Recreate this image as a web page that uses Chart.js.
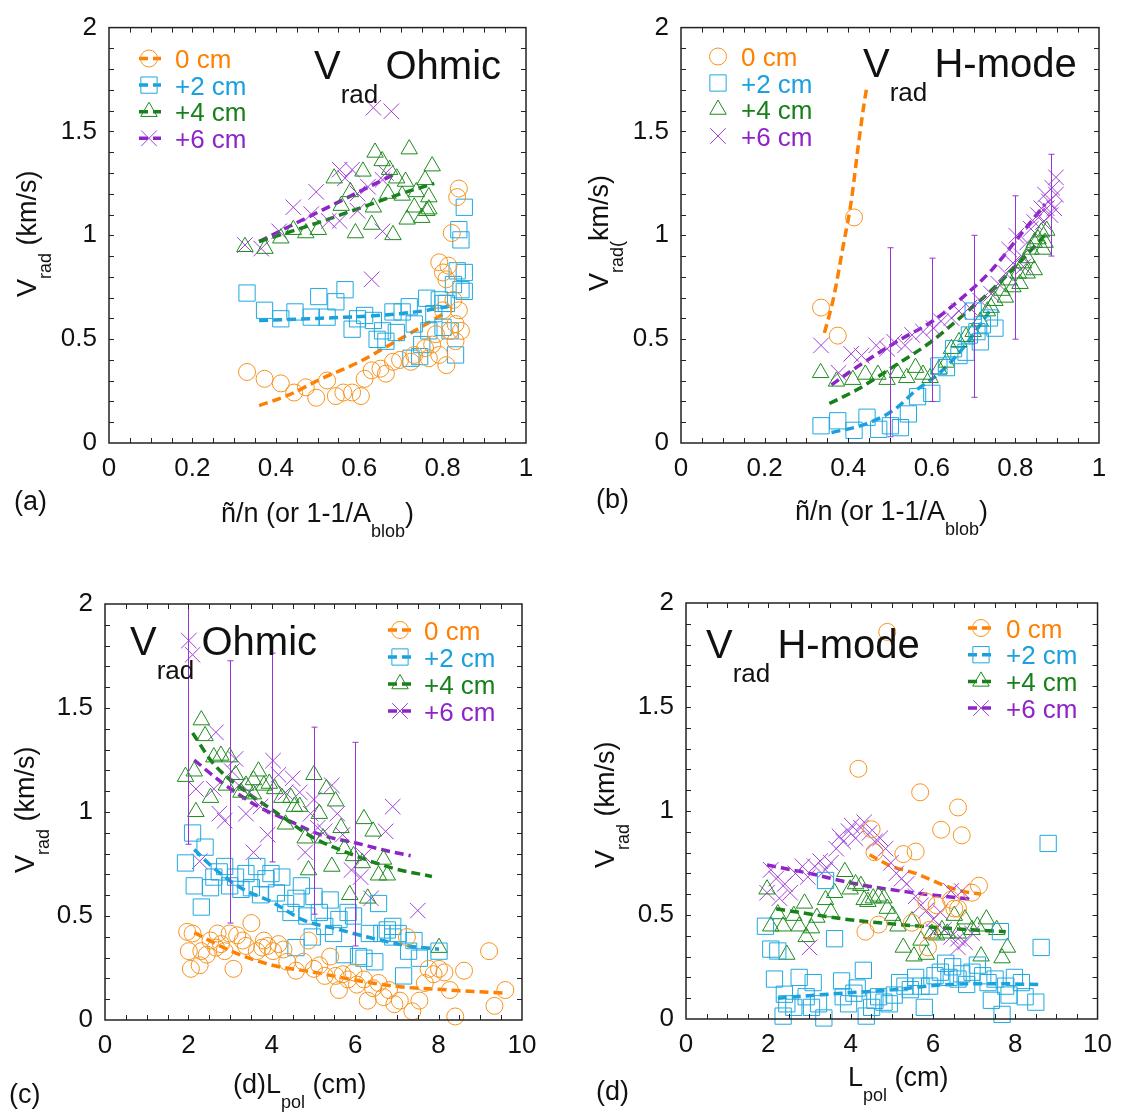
<!DOCTYPE html>
<html>
<head>
<meta charset="utf-8">
<title>Vrad vs fluctuation level and Lpol</title>
<script src="https://cdn.jsdelivr.net/npm/chart.js@4.4.1/dist/chart.umd.min.js"></script>
<style>
  html, body { margin: 0; padding: 0; background: #fff; }
  body { width: 1122px; height: 1113px; position: relative; overflow: hidden; }
  canvas.panel { position: absolute; }
</style>
</head>
<body>
<canvas id="panel-a" class="panel"></canvas>
<canvas id="panel-b" class="panel"></canvas>
<canvas id="panel-c" class="panel"></canvas>
<canvas id="panel-d" class="panel"></canvas>
<script>
// ==========================
// DATA
// ==========================
const seriesLabels = ["0 cm", "+2 cm", "+4 cm", "+6 cm"];
const ratioTicks = [0, 0.2, 0.4, 0.6, 0.8, 1];
const lpolTicks = [0, 2, 4, 6, 8, 10];
const vradTicks = [0, 0.5, 1, 1.5, 2];

// (a) Ohmic, V_rad vs n~/n
const ohmicRatio0 = [[0.331,0.342],[0.373,0.309],[0.412,0.287],[0.444,0.243],[0.472,0.268],[0.497,0.218],[0.523,0.301],[0.544,0.226],[0.562,0.243],[0.583,0.243],[0.604,0.226],[0.613,0.309],[0.630,0.350],[0.651,0.358],[0.664,0.334],[0.681,0.391],[0.698,0.400],[0.724,0.391],[0.732,0.424],[0.758,0.457],[0.767,0.408],[0.775,0.474],[0.784,0.524],[0.792,0.424],[0.792,0.870],[0.801,0.821],[0.801,0.639],[0.809,0.788],[0.809,0.375],[0.814,0.854],[0.818,0.540],[0.822,1.011],[0.826,0.689],[0.831,0.573],[0.831,0.490],[0.835,1.184],[0.839,1.225],[0.839,0.639],[0.844,0.540]];
const ohmicRatio2 = [[0.331,0.722],[0.373,0.639],[0.412,0.598],[0.446,0.631],[0.485,0.606],[0.503,0.705],[0.523,0.606],[0.544,0.680],[0.566,0.738],[0.583,0.548],[0.596,0.598],[0.613,0.614],[0.634,0.590],[0.643,0.499],[0.656,0.540],[0.664,0.490],[0.681,0.631],[0.689,0.532],[0.703,0.631],[0.720,0.656],[0.724,0.408],[0.732,0.573],[0.745,0.416],[0.750,0.474],[0.762,0.697],[0.767,0.540],[0.779,0.623],[0.792,0.689],[0.801,0.557],[0.801,0.672],[0.809,0.672],[0.818,0.540],[0.826,0.763],[0.831,0.424],[0.835,0.829],[0.839,1.027],[0.844,0.978],[0.844,0.738],[0.852,1.135],[0.852,0.821],[0.852,0.730]];
const ohmicRatio4 = [[0.326,0.945],[0.374,0.936],[0.412,0.986],[0.442,1.027],[0.472,1.011],[0.502,1.027],[0.540,1.275],[0.557,1.143],[0.579,1.209],[0.591,1.011],[0.609,1.308],[0.630,1.052],[0.634,1.135],[0.638,1.399],[0.655,1.358],[0.669,1.201],[0.673,1.316],[0.681,1.002],[0.690,1.275],[0.703,1.192],[0.711,1.259],[0.715,1.077],[0.720,1.415],[0.732,1.135],[0.737,1.209],[0.750,1.085],[0.758,1.267],[0.762,1.118],[0.767,1.184],[0.767,1.126],[0.775,1.333]];
const ohmicRatio6 = [[0.326,0.953],[0.365,0.936],[0.408,1.019],[0.442,1.135],[0.485,1.102],[0.497,1.209],[0.527,1.069],[0.553,1.316],[0.553,1.069],[0.566,1.275],[0.583,1.316],[0.596,1.201],[0.596,1.118],[0.621,1.234],[0.630,0.788],[0.634,1.614],[0.656,1.019],[0.656,1.267],[0.664,1.300],[0.677,1.597]];
const ohmicRatioFit0 = [[0.36,0.18],[0.43,0.23],[0.51,0.31],[0.60,0.39],[0.68,0.48],[0.75,0.56],[0.80,0.62]];
const ohmicRatioFit2 = [[0.36,0.59],[0.50,0.60],[0.65,0.615],[0.75,0.635],[0.82,0.66]];
const ohmicRatioFit4 = [[0.36,0.97],[0.50,1.06],[0.60,1.13],[0.70,1.20],[0.78,1.25]];
const ohmicRatioFit6 = [[0.36,0.97],[0.45,1.06],[0.55,1.16],[0.63,1.24],[0.68,1.29]];

// (b) H-mode, V_rad vs n~/n
const hmodeRatio0 = [[0.335,0.652],[0.375,0.517],[0.414,1.086]];
const hmodeRatio2 = [[0.335,0.083],[0.375,0.107],[0.414,0.061],[0.445,0.124],[0.473,0.066],[0.501,0.083],[0.525,0.074],[0.544,0.140],[0.566,0.223],[0.600,0.239],[0.617,0.371],[0.635,0.363],[0.652,0.454],[0.665,0.421],[0.682,0.437],[0.690,0.520],[0.699,0.635],[0.708,0.536],[0.716,0.487],[0.721,0.569],[0.738,0.602],[0.751,0.553]];
const hmodeRatio4 = [[0.334,0.338],[0.372,0.297],[0.411,0.305],[0.441,0.330],[0.471,0.330],[0.493,0.305],[0.518,0.338],[0.540,0.314],[0.561,0.363],[0.579,0.330],[0.596,0.314],[0.617,0.355],[0.635,0.388],[0.647,0.454],[0.665,0.487],[0.682,0.512],[0.699,0.536],[0.716,0.586],[0.733,0.635],[0.742,0.652],[0.751,0.685],[0.768,0.734],[0.776,0.701],[0.785,0.784],[0.794,0.751],[0.807,0.817],[0.811,0.767],[0.819,0.866],[0.828,0.891],[0.828,0.817],[0.837,0.932],[0.845,0.965],[0.845,0.833],[0.854,0.982],[0.862,1.015],[0.866,0.932],[0.871,0.965],[0.875,1.023]];
const hmodeRatio6 = [[0.335,0.470],[0.377,0.338],[0.407,0.429],[0.432,0.421],[0.467,0.470],[0.493,0.454],[0.510,0.487],[0.536,0.470],[0.553,0.520],[0.579,0.536],[0.604,0.553],[0.622,0.586],[0.647,0.602],[0.665,0.635],[0.690,0.652],[0.716,0.685],[0.742,0.718],[0.759,0.767],[0.777,0.817],[0.785,0.932],[0.794,0.866],[0.802,0.998],[0.815,0.899],[0.819,0.850],[0.828,0.965],[0.837,1.031],[0.845,1.064],[0.854,1.097],[0.862,1.130],[0.866,1.064],[0.871,1.196],[0.875,1.130],[0.880,1.163],[0.884,1.097],[0.888,1.229],[0.893,1.130],[0.897,1.279],[0.897,1.196]];
const hmodeRatioFit0 = [[0.343,0.53],[0.364,0.69],[0.389,0.96],[0.407,1.16],[0.424,1.43],[0.437,1.62],[0.445,1.72]];
const hmodeRatioFit2 = [[0.36,0.05],[0.44,0.09],[0.51,0.16],[0.56,0.25],[0.62,0.34],[0.68,0.47],[0.74,0.64]];
const hmodeRatioFit4 = [[0.355,0.19],[0.424,0.26],[0.51,0.37],[0.60,0.49],[0.66,0.59],[0.74,0.73],[0.81,0.87],[0.87,1.0]];
const hmodeRatioFit6 = [[0.36,0.28],[0.424,0.37],[0.518,0.49],[0.604,0.59],[0.673,0.70],[0.742,0.83],[0.811,1.0],[0.871,1.15]];
// [x, low, high] of the +6 cm error bars
const hmodeRatioErr6 = [[0.5,0.03,0.94],[0.6,0.20,0.89],[0.7,0.22,1.0],[0.8,0.50,1.19],[0.885,0.90,1.39]];

// (c) Ohmic, V_rad vs L_pol
const ohmicLpol0 = [[1.97,0.424],[2.01,0.331],[2.06,0.246],[2.10,0.416],[2.27,0.263],[2.31,0.331],[2.44,0.314],[2.53,0.382],[2.66,0.348],[2.70,0.416],[2.78,0.365],[2.87,0.331],[2.99,0.416],[3.08,0.246],[3.17,0.407],[3.30,0.382],[3.38,0.356],[3.51,0.466],[3.64,0.331],[3.77,0.348],[3.81,0.382],[3.90,0.356],[4.03,0.331],[4.16,0.365],[4.28,0.339],[4.37,0.280],[4.58,0.237],[4.76,0.280],[4.88,0.382],[5.01,0.246],[5.14,0.263],[5.27,0.212],[5.40,0.305],[5.53,0.212],[5.61,0.144],[5.70,0.220],[5.83,0.195],[5.96,0.229],[6.04,0.170],[6.21,0.195],[6.30,0.093],[6.43,0.153],[6.56,0.178],[6.68,0.110],[6.81,0.144],[6.94,0.076],[7.07,0.093],[7.24,0.399],[7.37,0.042],[7.54,0.093],[7.67,0.178],[7.76,0.246],[7.88,0.220],[8.01,0.246],[8.14,0.229],[8.27,0.144],[8.40,0.017],[8.61,0.237],[9.21,0.331],[9.34,0.068],[9.60,0.144]];
const ohmicLpol2 = [[1.93,0.755],[2.10,0.899],[2.14,0.645],[2.31,0.543],[2.40,0.831],[2.53,0.636],[2.61,0.687],[2.74,0.712],[2.87,0.738],[2.99,0.645],[3.13,0.687],[3.26,0.628],[3.38,0.704],[3.51,0.636],[3.64,0.738],[3.73,0.602],[3.86,0.679],[3.98,0.704],[4.11,0.611],[4.24,0.687],[4.33,0.560],[4.46,0.517],[4.58,0.585],[4.58,0.348],[4.71,0.645],[4.84,0.500],[4.97,0.399],[5.01,0.594],[5.14,0.517],[5.27,0.450],[5.40,0.577],[5.48,0.416],[5.61,0.483],[5.74,0.314],[5.83,0.517],[5.96,0.500],[6.08,0.305],[6.21,0.297],[6.34,0.416],[6.47,0.280],[6.56,0.560],[6.64,0.416],[6.77,0.433],[6.90,0.399],[6.90,0.450],[7.03,0.416],[7.16,0.212],[7.28,0.331],[7.41,0.382],[7.54,0.297],[8.01,0.331]];
const ohmicLpol4 = [[1.93,1.170],[2.14,1.196],[2.18,1.001],[2.31,1.442],[2.40,1.366],[2.53,1.069],[2.61,1.264],[2.78,1.272],[2.91,1.128],[2.99,1.264],[3.13,1.179],[3.26,1.094],[3.38,1.128],[3.56,1.154],[3.56,1.086],[3.68,1.196],[3.81,1.128],[3.94,1.137],[4.07,1.111],[4.24,1.069],[4.33,0.941],[4.46,1.069],[4.54,1.026],[4.67,1.026],[4.80,0.874],[4.88,0.721],[5.01,1.179],[5.14,0.992],[5.23,0.874],[5.31,1.111],[5.44,0.738],[5.53,1.052],[5.66,0.924],[5.74,0.823],[5.87,0.602],[5.96,0.789],[6.17,0.755],[6.21,0.967],[6.30,0.585],[6.43,0.907],[6.56,0.696],[6.68,0.772],[6.77,0.696],[8.01,0.348]];
const ohmicLpol6 = [[2.01,1.824],[2.10,1.756],[2.18,1.111],[2.27,0.763],[2.61,1.111],[2.66,1.383],[2.74,0.992],[2.87,0.958],[3.04,1.196],[3.13,1.255],[3.21,1.128],[3.38,0.992],[3.47,1.094],[3.56,0.806],[3.73,1.026],[3.90,0.891],[4.03,1.247],[4.16,1.179],[4.33,1.094],[4.50,1.162],[4.67,1.094],[4.80,0.806],[4.93,0.992],[5.01,1.060],[5.10,0.924],[5.27,0.907],[5.44,1.128],[5.57,0.992],[5.70,0.891],[5.91,0.721],[6.13,0.687],[6.21,0.789],[6.38,0.585],[6.73,0.907],[6.90,1.026],[7.50,0.526]];
const ohmicLpolFit0 = [[2.14,0.42],[3.04,0.33],[3.98,0.265],[5.01,0.23],[6.04,0.19],[7.07,0.16],[8.18,0.145],[9.55,0.13]];
const ohmicLpolFit2 = [[2.14,0.82],[2.61,0.73],[3.30,0.63],[3.98,0.57],[4.76,0.48],[5.61,0.435],[6.47,0.39],[7.33,0.355],[8.01,0.34]];
const ohmicLpolFit4 = [[2.10,1.38],[2.61,1.23],[3.30,1.11],[4.16,0.99],[5.01,0.875],[5.87,0.80],[6.90,0.73],[7.84,0.69]];
const ohmicLpolFit6 = [[2.14,1.25],[2.78,1.145],[3.64,1.03],[4.50,0.95],[5.18,0.89],[6.04,0.85],[6.73,0.815],[7.33,0.79]];
const ohmicLpolErr6 = [[2,0.845,2.1],[3,0.466,1.727],[4,0.76,1.764],[5,0.509,1.408],[6,0.356,1.335]];

// (d) H-mode, V_rad vs L_pol
const hmodeLpol0 = [[4.19,1.203],[4.36,0.420],[4.51,0.912],[4.58,0.802],[4.68,0.454],[4.89,1.861],[5.28,0.793],[5.49,0.463],[5.58,0.805],[5.69,1.090],[5.84,0.564],[5.88,0.344],[5.92,0.429],[6.09,0.547],[6.20,0.910],[6.44,0.573],[6.52,0.531],[6.61,1.017],[6.61,0.531],[6.70,0.883],[6.95,0.607],[7.12,0.641]];
const hmodeLpol2 = [[1.93,0.446],[2.06,0.336],[2.15,0.192],[2.23,0.327],[2.36,0.014],[2.39,0.119],[2.45,0.073],[2.62,0.056],[2.75,0.200],[2.92,0.107],[3.05,0.056],[3.09,0.175],[3.22,0.073],[3.35,0.005],[3.39,0.666],[3.61,0.386],[3.78,0.183],[3.82,0.107],[3.95,0.073],[4.08,0.124],[4.16,0.149],[4.31,0.234],[4.38,0.014],[4.51,0.056],[4.59,0.090],[4.68,0.107],[4.81,0.081],[4.94,0.073],[5.06,0.115],[5.19,0.175],[5.32,0.158],[5.45,0.141],[5.58,0.200],[5.71,0.158],[5.79,0.056],[5.92,0.158],[6.05,0.208],[6.18,0.225],[6.31,0.268],[6.39,0.200],[6.48,0.251],[6.61,0.192],[6.70,0.217],[6.82,0.166],[6.95,0.225],[7.08,0.259],[7.21,0.208],[7.34,0.175],[7.42,0.090],[7.51,0.192],[7.64,0.420],[7.68,0.022],[7.77,0.158],[7.85,0.115],[7.98,0.200],[8.15,0.175],[8.24,0.107],[8.50,0.081],[8.63,0.344],[8.80,0.844]];
const hmodeLpol4 = [[1.97,0.624],[2.06,0.446],[2.23,0.505],[2.36,0.446],[2.45,0.310],[2.62,0.497],[2.75,0.446],[2.88,0.556],[2.92,0.395],[3.05,0.437],[3.18,0.488],[3.39,0.573],[3.52,0.514],[3.61,0.607],[3.86,0.708],[3.99,0.624],[4.12,0.649],[4.25,0.641],[4.33,0.573],[4.42,0.564],[4.55,0.581],[4.68,0.590],[4.81,0.581],[4.89,0.531],[5.02,0.497],[5.15,0.446],[5.28,0.344],[5.49,0.471],[5.54,0.302],[5.71,0.378],[5.84,0.310],[5.97,0.412],[6.09,0.403],[6.22,0.429],[6.35,0.412],[6.52,0.497],[6.61,0.412],[6.78,0.480],[6.95,0.429],[7.08,0.446],[7.17,0.302],[7.30,0.480],[7.55,0.429],[7.68,0.293],[7.81,0.344]];
const hmodeLpol6 = [[1.97,0.607],[2.06,0.717],[2.19,0.675],[2.27,0.581],[2.40,0.649],[2.53,0.607],[2.66,0.700],[2.83,0.734],[2.96,0.683],[3.00,0.344],[3.13,0.734],[3.26,0.759],[3.39,0.717],[3.52,0.751],[3.65,0.819],[3.73,0.878],[3.82,0.853],[3.95,0.903],[4.03,0.929],[4.12,0.869],[4.25,0.920],[4.33,0.946],[4.46,0.895],[4.59,0.853],[4.72,0.869],[4.85,0.819],[4.98,0.751],[5.11,0.700],[5.24,0.675],[5.36,0.649],[5.58,0.590],[5.71,0.547],[5.84,0.522],[6.01,0.480],[6.01,0.420],[6.18,0.514],[6.27,0.429],[6.44,0.395],[6.44,0.615],[6.61,0.386],[6.61,0.344],[6.70,0.615],[6.78,0.369],[6.95,0.412]];
const hmodeLpolFit0 = [[4.46,0.79],[4.98,0.735],[5.58,0.70],[6.18,0.65],[6.70,0.615],[7.17,0.60]];
const hmodeLpolFit2 = [[2.23,0.10],[3.5,0.12],[5.0,0.14],[6.3,0.165],[7.5,0.17],[8.67,0.165]];
const hmodeLpolFit4 = [[2.19,0.53],[3.0,0.505],[3.86,0.48],[5.15,0.455],[6.44,0.435],[7.77,0.42]];
const hmodeLpolFit6 = [[1.97,0.74],[3.0,0.70],[4.12,0.65],[5.41,0.61],[6.27,0.59],[6.95,0.575]];

// ==========================
// STYLES
// ==========================
const FONT = '"Liberation Sans", Arial, Helvetica, sans-serif';
const INK = "#111";
const SERIES_STYLE = [
  { pointStyle: "circle", radius: 8.5, color: "#F7931E", lineColor: "#FF7F00" },
  { pointStyle: "rect", radius: 11.5, color: "#1FA8E0", lineColor: "#1AA0DC" },
  { pointStyle: "triangle", radius: 9.5, color: "#1E8B1E", lineColor: "#17801A" },
  { pointStyle: "crossRot", radius: 11, color: "#A040D8", lineColor: "#8E24C8" },
];
const ERROR_COLOR = "#9B30D6";

function titleParts(word) {
  return [
    { text: "V", size: 40 },
    { text: "rad ", size: 26, dy: 24 },
    { text: word, size: 40 },
  ];
}

const vradTitle = [
  { text: "V", size: 27 },
  { text: "rad", size: 18, dy: 15 },
  { text: " (km/s)", size: 27 },
];
const ratioTitle = [
  { text: "ñ/n (or 1-1/A", size: 27 },
  { text: "blob", size: 18, dy: 15 },
  { text: ")", size: 27 },
];

// ==========================
// PANELS
// ==========================
const panels = [
  {
    id: "panel-a",
    frame: { left: 0, top: 0, w: 561, h: 556 },
    area: { left: 109, top: 27, right: 526, bottom: 443 },
    xMax: 1, xTicks: ratioTicks, xMinor: 0.05,
    series: [ohmicRatio0, ohmicRatio2, ohmicRatio4, ohmicRatio6],
    fits: [ohmicRatioFit0, ohmicRatioFit2, ohmicRatioFit4, ohmicRatioFit6],
    errors: [],
    title: { x: 314, y: 79, parts: titleParts("Ohmic") },
    legend: { withLine: true, lineX0: 139, lineX1: 161, markerX: 149, textX: 175, y: 58.5, dy: 26.6 },
    yTitle: { x: 36, y: 297, parts: vradTitle },
    xTitle: { x: 221, y: 522, parts: ratioTitle },
    tag: { x: 14, y: 510, text: "(a)" },
  },
  {
    id: "panel-b",
    frame: { left: 561, top: 0, w: 561, h: 556 },
    area: { left: 681, top: 25, right: 1099, bottom: 443 },
    xMax: 1, xTicks: ratioTicks, xMinor: 0.05,
    series: [hmodeRatio0, hmodeRatio2, hmodeRatio4, hmodeRatio6],
    fits: [hmodeRatioFit0, hmodeRatioFit2, hmodeRatioFit4, hmodeRatioFit6],
    errors: hmodeRatioErr6,
    title: { x: 863, y: 77, parts: titleParts("H-mode") },
    legend: { withLine: false, markerX: 718, textX: 741, y: 56.5, dy: 26.5 },
    yTitle: { x: 608, y: 291, parts: [
      { text: "V", size: 27 },
      { text: "rad(", size: 18, dy: 15 },
      { text: "km/s)", size: 27 },
    ] },
    xTitle: { x: 795, y: 520, parts: ratioTitle },
    tag: { x: 596, y: 508, text: "(b)" },
  },
  {
    id: "panel-c",
    frame: { left: 0, top: 556, w: 561, h: 557 },
    area: { left: 105, top: 604, right: 522, bottom: 1020 },
    xMax: 10, xTicks: lpolTicks, xMinor: 0.5,
    series: [ohmicLpol0, ohmicLpol2, ohmicLpol4, ohmicLpol6],
    fits: [ohmicLpolFit0, ohmicLpolFit2, ohmicLpolFit4, ohmicLpolFit6],
    errors: ohmicLpolErr6,
    title: { x: 130, y: 655, parts: titleParts("Ohmic") },
    legend: { withLine: true, lineX0: 388, lineX1: 416, markerX: 400, textX: 424, y: 630, dy: 27 },
    yTitle: { x: 34, y: 873, parts: vradTitle },
    xTitle: { x: 233, y: 1093, parts: [
      { text: "(d)L", size: 27 },
      { text: "pol", size: 18, dy: 15 },
      { text: " (cm)", size: 27 },
    ] },
    tag: { x: 9, y: 1103, text: "(c)" },
  },
  {
    id: "panel-d",
    frame: { left: 561, top: 556, w: 561, h: 557 },
    area: { left: 686, top: 603, right: 1103, bottom: 1019 },
    xMax: 10, xTicks: lpolTicks, xMinor: 0.5,
    series: [hmodeLpol0, hmodeLpol2, hmodeLpol4, hmodeLpol6],
    fits: [hmodeLpolFit0, hmodeLpolFit2, hmodeLpolFit4, hmodeLpolFit6],
    errors: [],
    title: { x: 706, y: 658, parts: titleParts("H-mode") },
    legend: { withLine: true, lineX0: 968, lineX1: 994, markerX: 981, textX: 1006, y: 628, dy: 26.7 },
    yTitle: { x: 614, y: 868, parts: vradTitle },
    xTitle: { x: 848, y: 1086, parts: [
      { text: "L", size: 27 },
      { text: "pol", size: 18, dy: 15 },
      { text: " (cm)", size: 27 },
    ] },
    tag: { x: 596, y: 1100, text: "(d)" },
  },
];

// ==========================
// HELPERS
// ==========================
function toPoints(pairs) {
  return pairs.map(([x, y]) => ({ x, y }));
}

function markerDataset(pairs, style) {
  return {
    data: toPoints(pairs),
    showLine: false,
    pointStyle: style.pointStyle,
    pointRadius: style.radius,
    pointBorderWidth: 1,
    pointBorderColor: style.color,
    pointBackgroundColor: "rgba(0,0,0,0)",
    clip: false,
  };
}

function fitDataset(pairs, style) {
  return {
    data: toPoints(pairs),
    showLine: true,
    pointRadius: 0,
    borderColor: style.lineColor,
    borderWidth: 3.5,
    borderDash: [9, 5],
    cubicInterpolationMode: "monotone",
    fill: false,
  };
}

// draws text pieces one after another, subscripts get a dy
function drawRich(ctx, x, y, parts, rotated) {
  ctx.save();
  ctx.translate(x, y);
  if (rotated) ctx.rotate(-Math.PI / 2);
  ctx.fillStyle = INK;
  ctx.textBaseline = "alphabetic";
  ctx.textAlign = "left";
  let cx = 0;
  parts.forEach((p) => {
    ctx.font = `${p.size}px ${FONT}`;
    ctx.fillText(p.text, cx, p.dy || 0);
    cx += ctx.measureText(p.text).width;
  });
  ctx.restore();
}

function drawMarker(ctx, style, x, y) {
  ctx.save();
  ctx.strokeStyle = style.color;
  ctx.fillStyle = "rgba(0,0,0,0)";
  ctx.lineWidth = 1;
  Chart.helpers.drawPoint(ctx, { pointStyle: style.pointStyle, radius: style.radius, rotation: 0, borderWidth: 1 }, x, y);
  ctx.restore();
}

function axisOptions(tickValues, max, size, isX) {
  return {
    type: "linear",
    min: 0,
    max: max,
    border: { display: false },
    grid: { display: false, drawTicks: false },
    afterBuildTicks: (scale) => {
      scale.ticks = tickValues.map((v) => ({ value: v }));
    },
    afterFit: (scale) => {
      if (isX) scale.height = size;
      else scale.width = size;
    },
    ticks: {
      autoSkip: false,
      maxRotation: 0,
      padding: isX ? 10 : 12,
      color: INK,
      font: { family: FONT, size: 26 },
      callback: (v) => String(v),
    },
  };
}

// ==========================
// PLUGINS
// ==========================
function framePlugin(panel) {
  return {
    id: "frame",
    afterDatasetsDraw(chart) {
      const { ctx, chartArea: a, scales: { x, y } } = chart;
      ctx.save();
      ctx.strokeStyle = "#222";
      ctx.lineWidth = 1;
      ctx.beginPath();
      const nx = Math.round(panel.xMax / panel.xMinor);
      for (let i = 1; i < nx; i++) {
        const px = Math.round(x.getPixelForValue(i * panel.xMinor)) + 0.5;
        ctx.moveTo(px, a.bottom); ctx.lineTo(px, a.bottom - 5);
        ctx.moveTo(px, a.top); ctx.lineTo(px, a.top + 5);
      }
      for (let i = 1; i < 20; i++) {
        const py = Math.round(y.getPixelForValue(i * 0.1)) + 0.5;
        ctx.moveTo(a.left, py); ctx.lineTo(a.left + 5, py);
        ctx.moveTo(a.right, py); ctx.lineTo(a.right - 5, py);
      }
      ctx.stroke();
      ctx.lineWidth = 1.5;
      ctx.strokeRect(a.left, a.top, a.right - a.left, a.bottom - a.top);
      ctx.restore();
    },
  };
}

function errorBarPlugin(panel) {
  return {
    id: "errorBars",
    afterDatasetsDraw(chart) {
      if (!panel.errors.length) return;
      const { ctx, chartArea: a, scales: { x, y } } = chart;
      ctx.save();
      ctx.beginPath();
      ctx.rect(a.left, a.top, a.right - a.left, a.bottom - a.top);
      ctx.clip();
      ctx.strokeStyle = ERROR_COLOR;
      ctx.lineWidth = 1;
      ctx.beginPath();
      panel.errors.forEach(([xv, lo, hi]) => {
        const px = Math.round(x.getPixelForValue(xv)) + 0.5;
        const top = y.getPixelForValue(hi);
        const bot = y.getPixelForValue(lo);
        ctx.moveTo(px, top); ctx.lineTo(px, bot);
        ctx.moveTo(px - 3, top); ctx.lineTo(px + 3, top);
        ctx.moveTo(px - 3, bot); ctx.lineTo(px + 3, bot);
      });
      ctx.stroke();
      ctx.restore();
    },
  };
}

function textPlugin(panel) {
  const ox = panel.frame.left;
  const oy = panel.frame.top;
  return {
    id: "panelText",
    afterDraw(chart) {
      const ctx = chart.ctx;
      drawRich(ctx, panel.title.x - ox, panel.title.y - oy, panel.title.parts, false);
      drawRich(ctx, panel.yTitle.x - ox, panel.yTitle.y - oy, panel.yTitle.parts, true);
      drawRich(ctx, panel.xTitle.x - ox, panel.xTitle.y - oy, panel.xTitle.parts, false);
      drawRich(ctx, panel.tag.x - ox, panel.tag.y - oy, [{ text: panel.tag.text, size: 27 }], false);

      // legend
      const lg = panel.legend;
      SERIES_STYLE.forEach((style, i) => {
        const ly = lg.y + i * lg.dy - oy;
        if (lg.withLine) {
          ctx.save();
          ctx.strokeStyle = style.lineColor;
          ctx.lineWidth = 3.5;
          ctx.setLineDash([9, 5]);
          ctx.beginPath();
          ctx.moveTo(lg.lineX0 - ox, ly);
          ctx.lineTo(lg.lineX1 - ox, ly);
          ctx.stroke();
          ctx.restore();
        }
        drawMarker(ctx, style, lg.markerX - ox, ly);
        ctx.save();
        ctx.fillStyle = style.lineColor;
        ctx.font = `26px ${FONT}`;
        ctx.textBaseline = "alphabetic";
        ctx.fillText(seriesLabels[i], lg.textX - ox, ly + 9.5);
        ctx.restore();
      });
    },
  };
}

// ==========================
// BUILD
// ==========================
function createPanel(panel) {
  const { frame, area } = panel;
  const canvas = document.getElementById(panel.id);
  canvas.width = frame.w;
  canvas.height = frame.h;
  canvas.style.left = frame.left + "px";
  canvas.style.top = frame.top + "px";

  const localTop = area.top - frame.top;
  const localRight = area.right - frame.left;
  const localBottom = area.bottom - frame.top;
  const localLeft = area.left - frame.left;

  const datasets = [];
  panel.series.forEach((pairs, i) => datasets.push(markerDataset(pairs, SERIES_STYLE[i])));
  panel.fits.forEach((pairs, i) => datasets.push(fitDataset(pairs, SERIES_STYLE[i])));

  return new Chart(canvas, {
    type: "scatter",
    data: { datasets },
    options: {
      responsive: false,
      animation: false,
      devicePixelRatio: 1,
      events: [],
      layout: { padding: { left: 0, top: localTop, right: frame.w - localRight, bottom: 0 } },
      scales: {
        x: axisOptions(panel.xTicks, panel.xMax, frame.h - localBottom, true),
        y: axisOptions(vradTicks, 2, localLeft, false),
      },
      plugins: {
        legend: { display: false },
        tooltip: { enabled: false },
      },
    },
    plugins: [errorBarPlugin(panel), framePlugin(panel), textPlugin(panel)],
  });
}

panels.forEach(createPanel);
</script>
</body>
</html>
